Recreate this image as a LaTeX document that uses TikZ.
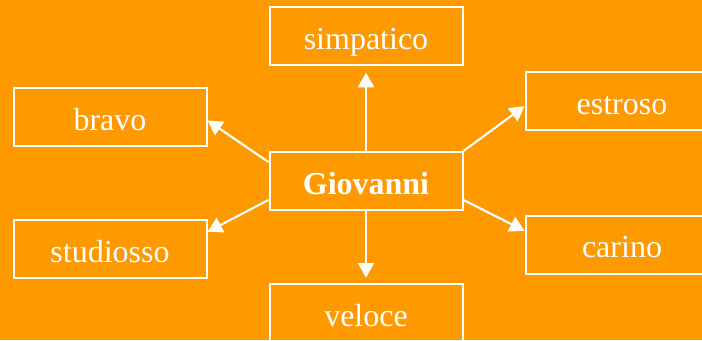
\documentclass[tikz,border=0pt]{standalone}
\usepackage{fontspec}
\setmainfont{Liberation Serif}
\usetikzlibrary{arrows.meta}
\definecolor{arancio}{HTML}{FF9900}

\begin{document}
\begin{tikzpicture}[x=0.75pt,y=-0.75pt]
% Styles
 \tikzstyle{qualita}=[rectangle,draw=white,line width=1.5pt,text=white,
      minimum width=144.75pt,minimum height=43.5pt,
      text height=20pt,text depth=0.5pt,
      font=\fontsize{24}{27}\selectfont]
 \tikzstyle{fleche}=[draw=white,line width=1.6pt,
      -{Triangle[length=11pt,width=12pt]}]
% Fond
 \clip (0,0) rectangle (702,340);
 \fill[arancio] (0,0) rectangle (702,340);
% Noms
 \node[qualita] (giov) at (366,181) {\textbf{Giovanni}};
 \node[qualita] (simp) at (366,36)  {simpatico};
 \node[qualita] (brav) at (110,117) {bravo};
 \node[qualita] (stud) at (110,249) {studiosso};
 \node[qualita] (estr) at (622,101) {estroso};
 \node[qualita] (cari) at (622,244.5) {carino};
 \node[qualita] (velo) at (366,313) {veloce};
% Fleches
 \draw[fleche,shorten >=5pt] (giov.north)--(simp.south);
 \draw[fleche,shorten >=4pt] (giov.south)--(velo.north);
 \draw[fleche] (giov.169)--(brav.-2);
 \draw[fleche] (giov.191)--(stud.10);
 \draw[fleche] (giov.north east)--(estr.183);
 \draw[fleche] (giov.-11)--(cari.172);
\end{tikzpicture}
\end{document}
